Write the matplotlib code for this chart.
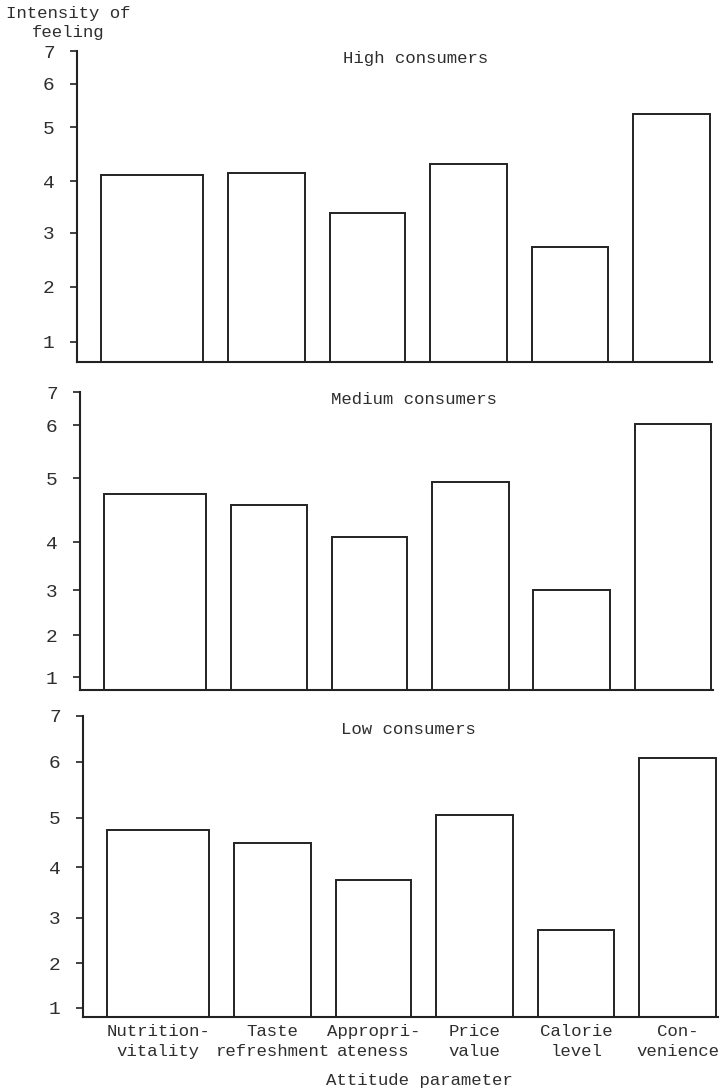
import matplotlib.pyplot as plt
import numpy as np

# attitude parameters (x categories)
categories = ["Nutrition-\nvitality", "Taste\nrefreshment", "Appropri-\nateness",
              "Price\nvalue", "Calorie\nlevel", "Con-\nvenience"]
panel_titles = ["High consumers", "Medium consumers", "Low consumers"]

# intensity of feeling
high_vals = [4.11, 4.15, 3.38, 4.31, 2.74, 5.30]
medium_vals = [4.75, 4.58, 4.08, 4.94, 3.00, 6.03]
low_vals = [4.76, 4.49, 3.75, 5.05, 2.73, 6.09]
yticks = [1, 2, 3, 4, 5, 6, 7]

# ---- layout (pixels of the 725x1092 figure) ----
W, H = 725, 1092
# axes boxes: left, right, top (value 7), bottom (baseline)
boxes = [(77, 712, 51, 362), (80, 713, 392, 690), (83, 718, 716, 1017)]
# hand drawn axes: pixel row of the baseline and of 1..7 in each panel
knots = [
    [362, 342, 287, 233, 181, 127, 84, 51],
    [690, 677, 635, 590, 542, 478, 425, 392],
    [1017, 1008, 963, 918, 867, 818, 762, 716],
]
base_vals = [0.64, 0.69, 0.80]
title_pos = [(416, 58), (414, 400), (408, 730)]

bar_w = [1.03, 0.77, 0.76, 0.77, 0.77, 0.77]
gap = 0.25
lefts = np.concatenate([[0], np.cumsum(np.array(bar_w) + gap)[:-1]])
centers = lefts + np.array(bar_w) / 2

FONT = "Liberation Mono"
FS = 12.5
TXT = '#2e2e2e'
plt.rcParams['font.family'] = [FONT, 'DejaVu Sans']

fig = plt.figure(figsize=(W / 100, H / 100), dpi=100)

for i, vals in enumerate([high_vals, medium_vals, low_vals]):
    l, r, t, b = boxes[i]
    ax = fig.add_axes([l / W, 1 - b / H, (r - l) / W, (b - t) / H])

    kv = np.array([base_vals[i]] + yticks, dtype=float)
    kp = -np.array(knots[i], dtype=float)
    ax.set_yscale('function', functions=(lambda v, kv=kv, kp=kp: np.interp(v, kv, kp),
                                          lambda p, kv=kv, kp=kp: np.interp(p, kp, kv)))
    ax.set_ylim(base_vals[i], 7)
    ax.set_xlim(-0.24, 6.14)

    heights = [v - base_vals[i] for v in vals]
    ax.bar(lefts, heights, width=bar_w, align='edge', bottom=base_vals[i],
           facecolor='white', edgecolor='#222222', linewidth=1.4)

    for s in ['top', 'right']:
        ax.spines[s].set_visible(False)
    for s in ['left', 'bottom']:
        ax.spines[s].set_linewidth(1.5)
        ax.spines[s].set_color('#222222')

    ax.set_yticks(yticks)
    ax.set_yticklabels([str(v) for v in yticks], fontsize=14, color=TXT)
    ax.tick_params(axis='y', length=5, width=1.2, pad=11, color='#222222')
    ax.minorticks_off()

    if i == 2:
        ax.set_xticks(centers)
        ax.set_xticklabels(categories, fontsize=FS, color=TXT, linespacing=1.4)
        ax.tick_params(axis='x', length=0, pad=5)
    else:
        ax.set_xticks([])

    tx, ty = title_pos[i]
    fig.text(tx / W, 1 - ty / H, panel_titles[i], ha='center', va='center',
             fontsize=FS, color=TXT)

fig.text(68 / W, 1 - 6 / H, "Intensity of\nfeeling", ha='center', va='top',
         fontsize=FS, color=TXT, linespacing=1.35, multialignment='center')
fig.text(419 / W, 1 - 1080 / H, "Attitude parameter", ha='center', va='center',
         fontsize=FS, color=TXT)

fig.savefig("out.png", dpi=100, facecolor='white')
